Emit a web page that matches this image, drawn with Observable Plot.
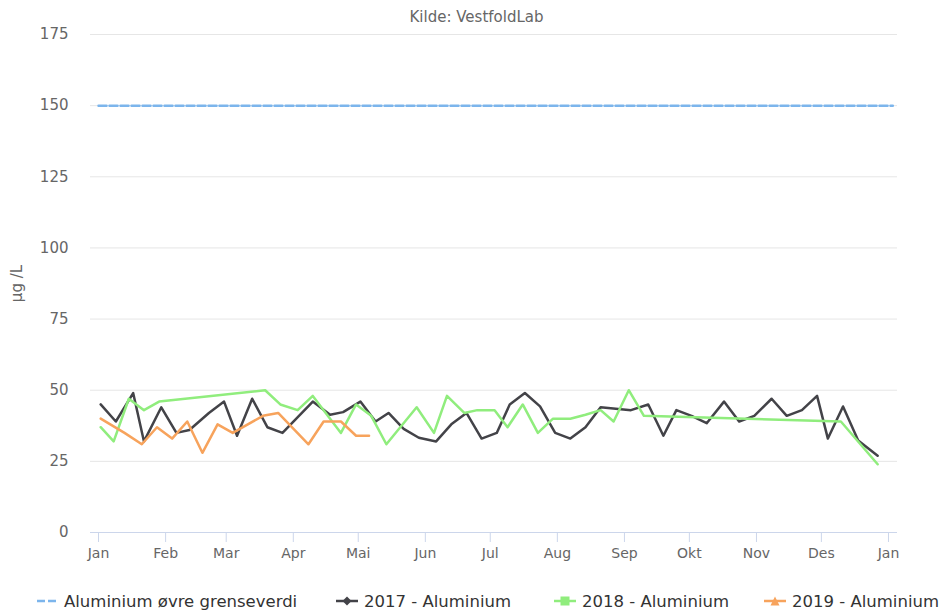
<!DOCTYPE html>
<html>
<head>
<meta charset="utf-8">
<script src="https://cdn.jsdelivr.net/npm/d3@7"></script>
<script src="https://cdn.jsdelivr.net/npm/@observablehq/plot@0.6"></script>
<style>
  body { margin: 0; background: white; font-family: "DejaVu Sans", sans-serif; }
  #wrap { width: 951px; height: 615px; position: relative; overflow: hidden; }
  #title { height: 30px; box-sizing: border-box; padding-top: 9px; line-height: 16px; font-size: 15px; color: #666; text-align: center; padding-left: 2px; }
  #legend { position: relative; height: 35px; }
  .item { position: absolute; top: 12px; height: 20px; line-height: 20px; font-size: 16.5px; color: #333; white-space: nowrap; }
  .item svg { vertical-align: middle; margin-right: 6px; position: relative; top: -2px; }
</style>
</head>
<body>
<div id="wrap">
  <div id="title">Kilde: VestfoldLab</div>
  <div id="chart"></div>
  <div id="legend"></div>
</div>
<script>
// ---- data ----
const monthLabels = ["Jan","Feb","Mar","Apr","Mai","Jun","Jul","Aug","Sep","Okt","Nov","Des","Jan"];
const yTicks = [0, 25, 50, 75, 100, 125, 150, 175];

const limitName = "Aluminium øvre grenseverdi";
const limitDates = ["2017-01-01", "2018-01-03"];
const limitValues = [150, 150];

const name2017 = "2017 - Aluminium";
const dates2017 = ["01-02","01-09","01-17","01-22","01-30","02-06","02-12","02-21","02-28","03-06","03-13","03-20","03-27",
  "04-10","04-18","04-24","05-02","05-09","05-15","05-22","05-29","06-06","06-13","06-20","06-27",
  "07-04","07-10","07-17","07-24","07-31","08-07","08-14","08-21","08-28","09-04","09-12","09-19","09-25",
  "10-02","10-09","10-17","10-24","10-31","11-08","11-15","11-22","11-29","12-04","12-11","12-18","12-27"];
const values2017 = [45,39,49,32,44,35,36,42,46,34,47,37,35,
  46,41.4,42.3,46,39,42,36.4,33.3,32,38,42,33,
  35,45,49,44.3,35,33,37,44,43.5,43,45,34,43,
  41,38.4,46,39,41,47,41,43,48,33,44.3,32.3,27];

const name2018 = "2018 - Aluminium";
const dates2018 = ["01-02","01-08","01-15","01-22","01-29","03-19","03-26","04-03","04-10","04-23","04-30","05-07","05-14",
  "05-28","06-05","06-11","06-19","06-25","07-03","07-09","07-16","07-23","07-30","08-07","08-14","08-21","08-27",
  "09-03","09-10","12-10","12-27"];
const values2018 = [37,32,47,43,46,50,45,43,48,35,45,41,31,
  44,35,48,42,43,43,37,45,35,40,40,41.4,43,39,
  50,41,39,24];

const name2019 = "2019 - Aluminium";
const dates2019 = ["01-02","01-13","01-21","01-28","02-04","02-11","02-18","02-25","03-04","03-18","03-25","04-08","04-15","04-23","04-30","05-06"];
const values2019 = [40,35,31,37,33,39,28,38,35,41,42,31,39,39,34,34];

const colors = { limit: "#7cb5ec", s2017: "#434348", s2018: "#90ed7d", s2019: "#f7a35c" };

// ---- build tables ----
const toDate = s => new Date(s.length === 5 ? "2017-" + s + "T00:00:00Z" : s + "T00:00:00Z");
const mk = (ds, vs) => ds.map((d, i) => ({ date: toDate(d), value: vs[i] }));
const limitData = mk(limitDates, limitValues);
const d2017 = mk(dates2017, values2017);
const d2018 = mk(dates2018, values2018);
const d2019 = mk(dates2019, values2019);
const monthTicks = d3.utcMonth.range(new Date(Date.UTC(2017,0,1)), new Date(Date.UTC(2018,0,2)));

const chart = Plot.plot({
  width: 951,
  height: 550,
  marginTop: 4,
  marginBottom: 48,
  marginLeft: 90,
  marginRight: 54,
  style: { fontFamily: "DejaVu Sans, sans-serif", fontSize: "14px", overflow: "visible", background: "white" },
  x: { type: "utc", domain: [new Date(Date.UTC(2016,11,28,7)), new Date(Date.UTC(2018,0,5,4))] },
  y: { domain: [0, 175] },
  marks: [
    Plot.gridY(yTicks, { stroke: "#e6e6e6", strokeOpacity: 1 }),
    Plot.ruleY([0], { stroke: "#ccd6eb", strokeWidth: 1 }),
    Plot.axisX(monthTicks, {
      tickSize: 10, tickPadding: 6, stroke: "#ccd6eb", strokeOpacity: 1, fill: "#666", fontSize: 14,
      tickFormat: (d, i) => monthLabels[i], label: null
    }),
    Plot.axisY(yTicks, {
      tickSize: 0, tickPadding: 22, fill: "#666", fontSize: 15,
      label: "µg /L", labelAnchor: "center", labelArrow: "none", labelOffset: 79, dy: 0
    }),
    Plot.line(limitData, { x: "date", y: "value", stroke: colors.limit, strokeWidth: 2.5, strokeDasharray: "8,3" }),
    Plot.line(d2017, { x: "date", y: "value", stroke: colors.s2017, strokeWidth: 2.5 }),
    Plot.line(d2018, { x: "date", y: "value", stroke: colors.s2018, strokeWidth: 2.5 }),
    Plot.line(d2019, { x: "date", y: "value", stroke: colors.s2019, strokeWidth: 2.5 })
  ]
});
document.getElementById("chart").appendChild(chart);

// ---- legend ----
const legendItems = [
  { name: limitName, color: colors.limit, marker: "dash", left: 36 },
  { name: name2017, color: colors.s2017, marker: "diamond", left: 336 },
  { name: name2018, color: colors.s2018, marker: "square", left: 554 },
  { name: name2019, color: colors.s2019, marker: "triangle", left: 764 }
];
const legend = document.getElementById("legend");
for (const it of legendItems) {
  let sym;
  if (it.marker === "dash") {
    sym = `<svg width="22" height="12"><line x1="1" y1="6" x2="21" y2="6" stroke="${it.color}" stroke-width="2.5" stroke-dasharray="8,3"/></svg>`;
  } else {
    let m = "";
    if (it.marker === "diamond") m = `<path d="M11,1.5 L15.5,6 L11,10.5 L6.5,6 Z" fill="${it.color}"/>`;
    if (it.marker === "square") m = `<rect x="6.5" y="1.5" width="9" height="9" fill="${it.color}"/>`;
    if (it.marker === "triangle") m = `<path d="M11,1.5 L15.5,10.5 L6.5,10.5 Z" fill="${it.color}"/>`;
    sym = `<svg width="22" height="12"><line x1="0" y1="6" x2="22" y2="6" stroke="${it.color}" stroke-width="2.5"/>${m}</svg>`;
  }
  const div = document.createElement("div");
  div.className = "item";
  div.style.left = it.left + "px";
  div.innerHTML = sym + `<span>${it.name}</span>`;
  legend.appendChild(div);
}
</script>
</body>
</html>
